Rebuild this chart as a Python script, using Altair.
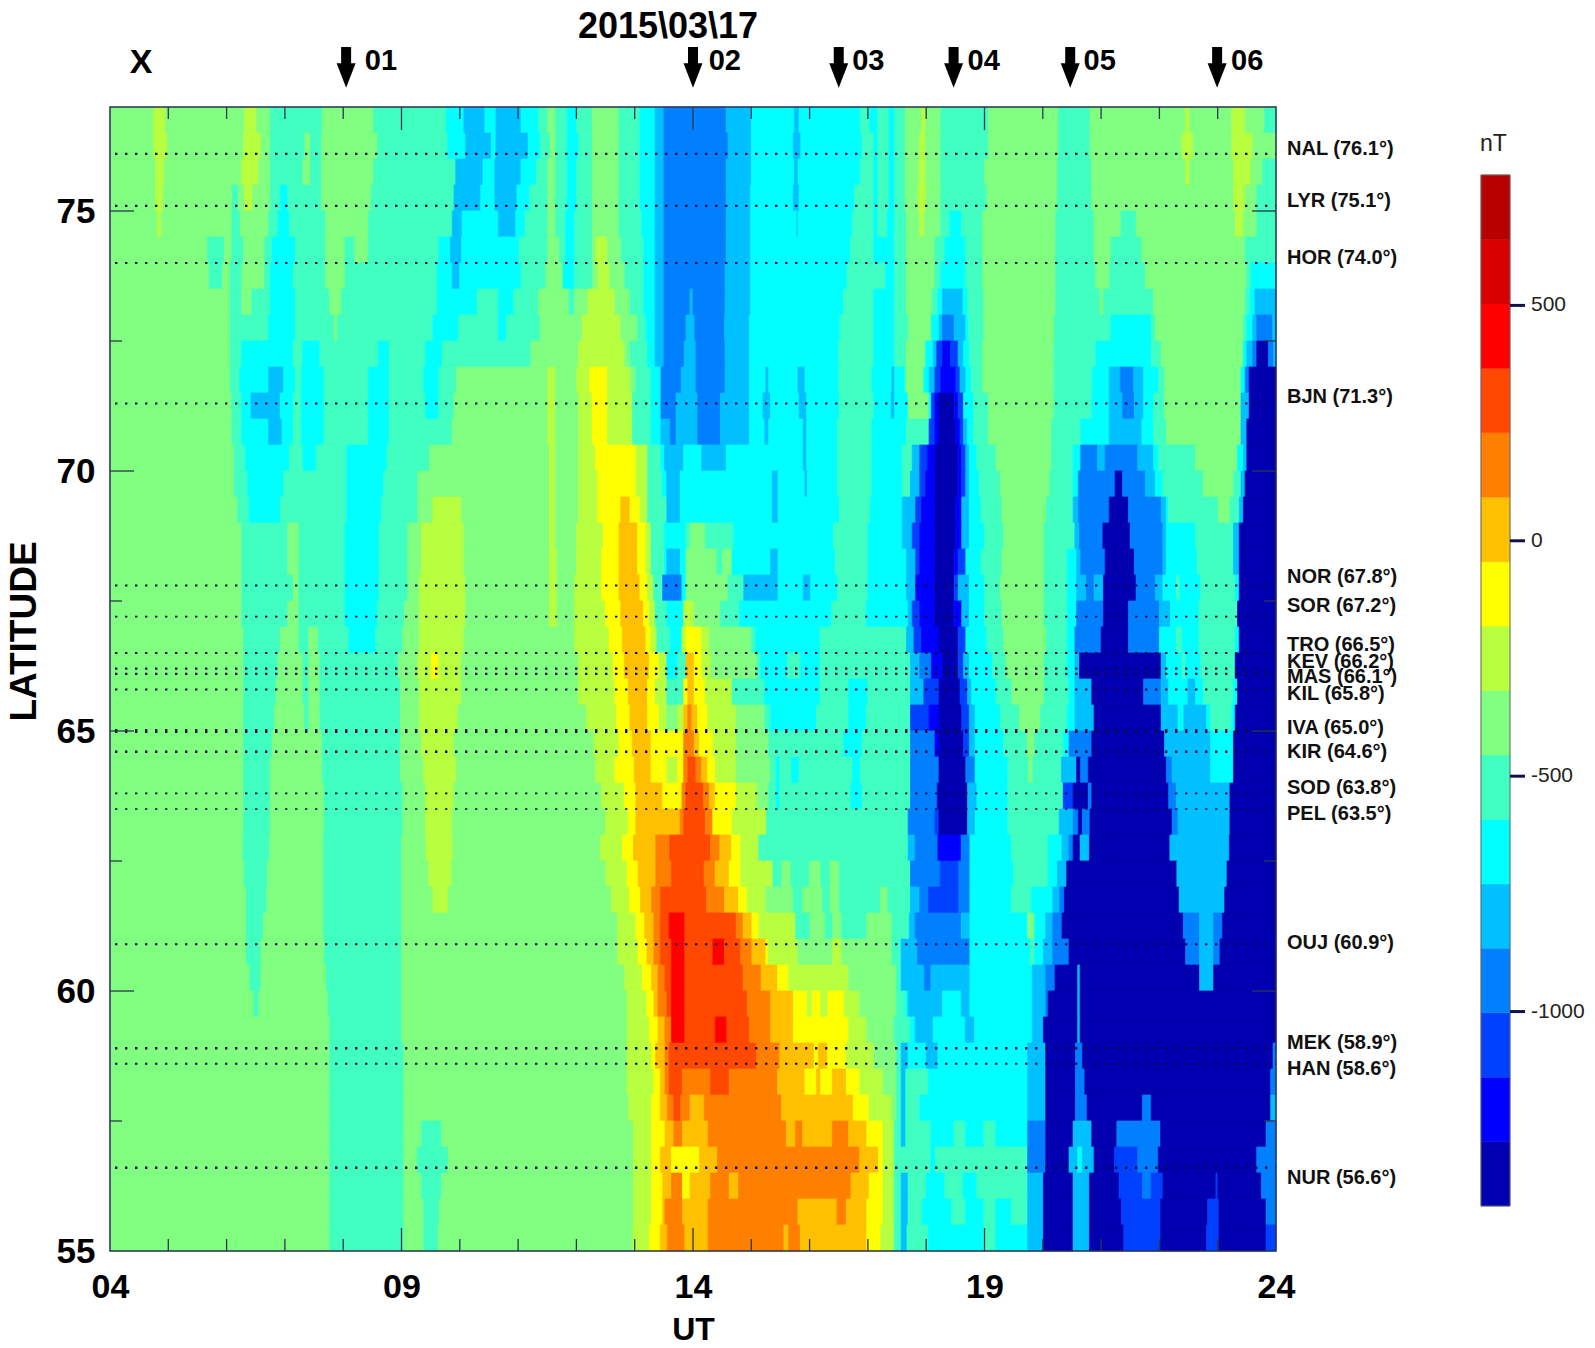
import altair as alt
import pandas as pd

FONT = "Liberation Sans"
COLORS = ["#0000b0", "#0000ff", "#0040ff", "#0080ff", "#00c0ff", "#00ffff", "#40ffc0", "#80ff80",
          "#b8ff40", "#ffff00", "#ffc000", "#ff8000", "#ff4800", "#ff0000", "#d80000", "#b80000"]
NT_MIN, NT_MAX = -1413, 777
BAND_NT = (NT_MAX - NT_MIN) / 16

# Each row: band index, UT where that band ends, next band, ... last band runs to 24 UT.
r_7675 = [7,4.75,8,4.95,7,6.31,8,6.51,7,6.75,6,7.64,7,8.52,6,9.77,5,10.07,4,10.43,5,10.62,4,11.05,5,11.35,6,11.51,7,11.64,6,11.84,5,12.0,6,12.27,7,12.73,6,13.09,5,13.35,4,13.5,3,14.57,4,15.0,5,15.74,4,15.82,5,16.87,6,17.03,5,17.17,6,17.36,5,17.46,6,17.64,7,17.92,8,17.99,7,18.25,6,19.07,7,20.27,6,20.81,7,22.45,8,22.52,7,23.24,8,23.47,7,23.8,6]
r_7625 = [7,4.75,8,4.98,7,6.29,8,6.59,7,6.75,6,7.34,7,7.44,6,7.63,7,8.59,6,9.79,5,10.1,4,10.54,5,10.62,4,11.17,5,11.38,6,11.55,7,11.65,6,11.84,5,12.04,6,12.27,7,12.73,6,13.09,5,13.35,4,13.5,3,14.6,4,15.0,5,15.72,4,15.85,5,16.9,6,17.1,5,17.17,6,17.36,5,17.46,6,17.64,7,17.89,8,17.99,7,18.25,6,19.07,7,20.27,6,20.81,7,22.39,8,22.58,7,23.24,8,23.6,7]
r_7575 = [7,4.78,8,4.93,7,6.26,8,6.55,7,6.75,6,7.31,7,7.44,6,7.63,7,8.52,6,9.93,4,10.4,5,10.6,4,11.05,5,11.31,6,11.51,7,11.64,6,11.84,5,12.0,6,12.27,7,12.73,6,13.09,5,13.35,4,13.5,3,14.57,4,15.0,5,15.74,4,15.8,5,16.87,6,17.1,5,17.17,6,17.36,5,17.46,6,17.64,7,17.88,8,17.99,7,18.25,6,19.0,7,20.25,6,20.84,7,22.45,8,22.52,7,23.27,8,23.57,7,23.77,6]
r_7525 = [7,4.78,8,4.91,7,6.1,6,6.2,7,6.31,8,6.45,7,6.75,6,6.92,5,7.05,6,7.63,7,8.48,6,9.9,4,10.36,5,10.6,4,10.98,5,11.2,6,11.51,7,11.64,6,11.84,5,12.0,6,12.27,7,12.73,6,13.09,5,13.35,4,13.5,3,14.57,4,14.99,5,15.72,4,15.82,5,16.77,6,17.1,5,17.17,6,17.36,5,17.46,6,17.64,7,17.86,8,18.0,7,18.25,6,19.04,7,20.25,6,20.84,7,23.27,8,23.47,7,23.67,6]
r_7475 = [7,4.82,8,4.88,7,6.09,6,6.23,7,6.72,6,6.88,5,7.08,6,7.7,7,8.43,6,9.87,4,10.04,5,10.66,4,10.96,5,11.12,6,11.51,7,11.64,6,11.81,5,11.97,6,12.27,7,12.73,6,13.12,5,13.35,4,13.5,3,14.57,4,14.99,5,15.78,4,15.8,5,16.74,6,17.1,5,17.17,6,17.33,5,17.46,6,17.66,7,17.89,8,17.97,7,18.25,6,18.41,5,18.61,6,18.97,7,20.22,6,20.88,7,21.34,6,21.6,7,23.3,8,23.44,7,23.67,6]
r_7425 = [7,5.67,6,5.96,7,6.09,6,6.29,7,6.65,6,6.78,5,7.18,6,7.7,7,8.03,6,8.2,7,8.43,6,9.64,5,9.84,4,10.03,5,11.02,6,11.51,7,11.71,6,11.81,5,11.97,6,12.27,7,12.33,8,12.53,7,12.77,6,13.15,5,13.35,4,13.5,3,14.57,4,14.99,5,16.7,6,17.1,5,17.46,6,17.66,7,18.15,6,18.32,5,18.68,6,18.97,7,20.22,6,20.88,7,21.17,6,21.7,7,23.47,6]
r_7375 = [7,5.7,6,5.93,7,6.06,6,6.26,7,6.65,6,6.75,5,7.14,6,7.7,7,8.03,6,9.61,5,9.87,4,10.0,5,11.05,6,11.48,7,11.77,5,11.97,6,12.27,7,12.37,8,12.57,7,12.83,6,13.15,5,13.35,4,13.5,3,14.55,4,14.99,5,16.64,6,17.3,5,17.46,6,17.66,7,18.15,6,18.25,5,18.68,6,18.97,7,20.22,6,20.91,7,21.14,6,21.76,7,23.5,6,23.57,5]
r_7325 = [7,6.06,6,6.26,7,6.43,6,6.75,5,7.18,6,7.77,7,7.97,6,9.61,5,10.3,6,10.66,5,10.92,6,11.35,7,11.87,6,11.97,7,12.2,8,12.66,7,12.92,6,13.15,5,13.35,4,13.5,3,13.95,4,14.0,3,14.55,4,14.99,5,16.58,6,17.1,5,17.46,6,17.66,7,18.1,6,18.2,5,18.28,4,18.63,5,18.71,6,18.99,7,20.22,6,20.98,7,21.04,6,21.9,7,23.47,6,23.55,5,23.64,4]
r_7275 = [7,6.06,6,6.72,5,7.18,6,7.85,7,7.9,6,9.54,5,9.98,6,10.66,5,10.8,6,11.38,7,12.1,8,12.76,7,13.05,6,13.19,5,13.35,4,13.5,3,13.88,4,14.03,3,14.54,4,14.97,5,16.52,6,17.1,5,17.46,6,17.7,7,18.09,5,18.22,4,18.28,3,18.48,4,18.68,5,18.73,6,18.99,7,20.2,6,21.17,5,21.86,6,21.93,7,23.44,6,23.5,5,23.6,4,23.67,3,23.94,4]
r_7225 = [7,6.06,6,6.26,5,7.14,6,7.3,5,7.6,6,8.6,5,8.79,6,9.41,5,9.7,6,11.22,7,12.04,8,12.82,7,12.92,6,13.22,5,13.35,4,13.5,3,13.85,4,14.05,3,14.55,4,14.97,5,16.5,6,17.1,5,17.46,6,17.66,7,17.99,5,18.12,4,18.18,2,18.28,1,18.42,2,18.55,4,18.64,5,18.74,6,18.97,7,20.19,6,20.91,5,21.86,6,22.03,7,23.44,5,23.5,4,23.6,3,23.67,0,23.87,3,23.96,4]
r_7175 = [7,6.06,6,6.23,5,6.72,4,6.98,5,7.18,6,7.28,5,7.67,6,8.43,5,8.79,6,9.38,5,9.64,6,9.94,7,11.51,8,11.64,7,12.0,8,12.23,9,12.53,8,12.92,7,13.02,6,13.28,5,13.45,3,13.8,4,14.05,3,14.55,4,14.97,5,15.25,4,15.3,5,15.8,4,15.92,5,16.5,6,17.07,5,17.41,4,17.46,5,17.63,6,17.66,7,17.96,5,18.05,4,18.15,2,18.25,1,18.51,2,18.58,4,18.68,5,18.78,6,18.97,7,20.19,6,20.85,5,21.14,4,21.33,3,21.56,4,21.73,5,21.99,6,22.09,7,23.4,5,23.47,3,23.54,0]
r_7125 = [7,6.09,6,6.26,5,6.42,4,6.92,5,7.14,6,7.28,5,7.67,6,8.43,5,8.79,6,9.41,5,9.64,6,9.9,7,11.51,8,11.64,7,12.04,8,12.27,9,12.53,8,12.96,6,13.28,5,13.45,3,13.71,4,14.08,3,14.47,4,14.97,5,15.2,4,15.33,5,15.82,4,15.95,5,16.51,6,17.1,5,17.4,4,17.46,5,17.69,7,18.05,5,18.09,2,18.15,1,18.22,0,18.48,1,18.55,2,18.64,5,18.81,6,19.07,7,20.19,6,20.84,5,21.14,4,21.37,3,21.57,4,21.73,5,21.9,6,22.09,7,23.4,4,23.54,0]
r_7075 = [7,6.09,6,6.26,5,6.72,4,6.95,5,7.14,6,7.28,5,7.67,6,8.43,5,8.79,6,9.87,7,11.51,8,11.64,7,12.04,8,12.27,9,12.53,8,12.96,6,13.28,5,13.45,4,13.61,3,13.71,4,14.08,3,14.47,4,14.97,5,15.23,4,15.3,5,15.89,4,15.95,5,16.48,6,17.07,5,17.66,6,18.05,2,18.15,1,18.22,0,18.51,1,18.58,2,18.64,4,18.71,5,18.81,6,19.07,7,20.15,6,20.65,5,21.14,4,21.7,5,21.9,6,22.12,7,23.4,4,23.5,0]
r_7025 = [7,6.13,6,6.32,5,7.08,6,7.31,5,7.54,6,8.06,5,8.75,6,9.48,7,11.54,8,11.64,7,12.04,8,12.33,9,13.02,8,13.22,6,13.45,5,13.51,4,13.84,5,14.15,4,14.57,5,15.89,4,15.95,5,16.48,6,17.07,5,17.59,6,17.76,4,17.89,2,18.02,1,18.15,0,18.55,1,18.61,2,18.68,4,18.74,5,18.87,6,19.2,7,20.15,6,20.52,5,20.65,3,20.94,4,21.07,3,21.63,4,21.9,5,21.99,6,22.62,7,23.34,5,23.44,4,23.5,0]
r_6975 = [7,6.13,6,6.36,5,6.98,6,8.06,5,8.69,6,9.28,7,11.54,8,11.64,7,12.04,8,12.37,9,13.02,8,13.22,6,13.48,5,13.55,4,13.78,5,15.36,4,15.46,5,15.92,4,15.96,5,16.48,6,17.07,5,17.59,6,17.73,4,17.89,2,17.99,1,18.15,0,18.55,1,18.61,2,18.68,4,18.74,5,18.91,6,19.27,7,20.12,6,20.52,5,20.61,3,21.24,0,21.37,3,21.76,4,21.93,5,22.06,6,22.75,7,23.27,6,23.4,4,23.47,0]
r_6925 = [7,6.19,6,6.39,5,6.92,6,8.06,5,8.66,6,9.28,7,9.54,8,10.03,7,11.54,8,11.64,7,12.04,8,12.37,9,12.76,10,12.92,9,13.09,8,13.22,6,13.55,4,13.78,5,15.36,4,15.46,5,16.51,6,17.04,5,17.59,4,17.82,2,17.92,1,18.15,0,18.51,1,18.61,4,18.74,5,18.94,6,19.3,7,20.06,6,20.52,4,20.61,3,21.14,0,21.47,3,22.03,4,22.12,5,22.16,6,23.01,7,23.21,6,23.37,4,23.44,0]
r_6875 = [7,6.26,6,7.05,7,7.24,6,8.03,5,8.62,6,9.11,7,9.34,8,10.07,7,11.54,8,11.64,7,12.0,8,12.46,9,12.73,10,13.05,9,13.19,8,13.28,6,13.51,5,13.88,6,13.95,7,14.21,6,14.7,5,16.41,6,17.0,5,17.59,4,17.76,2,17.89,1,18.15,0,18.51,1,18.61,4,18.74,5,19.0,6,19.33,7,20.02,6,20.55,4,20.63,3,21.03,0,21.5,3,22.06,4,22.12,5,22.62,6,23.27,4,23.37,0]
r_6825 = [7,6.26,6,7.05,7,7.24,6,8.03,5,8.62,6,9.11,7,9.34,8,10.07,7,11.54,8,11.67,7,12.0,8,12.43,9,12.73,10,13.05,9,13.19,8,13.28,6,13.51,5,13.55,4,13.78,5,13.88,7,14.41,6,14.51,7,14.67,5,15.33,4,15.46,5,16.44,6,17.0,5,17.66,4,17.82,2,17.89,1,18.15,0,18.48,1,18.55,2,18.68,5,18.94,6,19.3,7,20.02,6,20.42,5,20.58,4,20.65,3,21.07,0,21.57,3,22.06,4,22.12,5,22.65,6,23.27,4,23.37,0]
r_6775 = [7,6.26,6,7.14,7,7.24,6,8.03,5,8.62,6,9.11,7,9.31,8,10.1,7,11.54,8,11.67,7,11.97,8,12.43,9,12.73,10,13.09,9,13.22,8,13.32,6,13.48,3,13.81,5,13.88,7,14.6,6,14.87,4,15.46,5,15.89,4,16.02,5,16.48,6,17.0,5,17.66,4,17.82,1,18.15,0,18.48,2,18.55,4,18.74,5,19.0,6,19.27,7,20.02,6,20.42,5,20.58,4,20.75,3,20.88,4,21.04,0,21.6,3,21.93,4,22.06,5,22.29,6,22.35,5,22.71,6,23.3,5,23.37,0]
r_6725 = [7,6.26,6,7.05,7,7.24,6,8.03,5,8.59,6,9.05,7,9.31,8,10.1,7,11.54,8,11.67,7,11.97,8,12.5,9,12.76,10,13.15,9,13.25,8,13.35,6,13.55,5,13.84,8,14.02,7,14.47,6,14.8,5,16.38,6,16.97,5,17.69,4,17.76,2,17.89,1,18.15,0,18.48,1,18.61,4,18.74,5,19.0,6,19.3,7,20.02,6,20.42,5,20.58,3,21.04,0,21.47,3,22.0,4,22.19,5,22.68,6,23.34,0]
r_6675 = [7,6.29,6,6.92,7,7.24,6,7.41,7,7.57,6,8.1,5,8.56,6,9.02,7,9.31,8,10.07,7,11.97,8,12.56,9,12.79,10,13.19,9,13.28,8,13.38,6,13.61,5,13.81,8,13.88,9,14.15,8,14.28,7,15.0,6,15.07,5,16.18,6,17.66,4,17.79,2,17.92,1,18.22,0,18.55,2,18.68,5,19.04,6,19.33,7,20.06,6,20.42,5,20.55,3,21.0,0,21.47,3,22.0,5,22.29,6,22.39,5,22.68,6,23.3,5,23.37,0]
r_6625 = [7,6.29,6,6.88,7,7.31,6,7.41,7,7.6,6,8.95,7,9.28,8,9.51,9,9.64,8,10.03,7,12.04,8,12.63,9,12.82,10,13.25,9,13.42,8,13.55,5,13.74,6,13.88,10,14.02,9,14.15,8,14.31,7,15.1,6,15.16,5,15.62,6,15.85,5,16.18,6,17.73,4,17.89,3,18.09,1,18.28,0,18.55,2,18.64,4,18.74,5,19.14,6,19.37,7,20.02,6,20.42,5,20.55,4,20.63,0,22.03,4,22.12,5,22.39,6,22.45,5,22.71,6,23.3,0]
r_6575 = [7,6.29,6,6.85,7,7.31,6,7.41,7,7.6,6,8.98,7,9.31,8,10.03,7,12.04,8,12.66,9,12.89,10,13.22,9,13.35,8,13.55,6,13.84,9,13.91,10,14.02,9,14.21,8,14.67,6,15.23,5,16.18,6,16.67,5,17.0,6,17.73,4,17.96,2,18.22,0,18.58,2,18.71,4,18.78,5,19.2,6,19.47,7,20.02,6,20.45,5,20.55,4,20.84,0,21.73,3,22.03,4,22.16,5,22.49,4,22.62,5,22.75,6,23.27,5,23.34,0]
r_6525 = [7,6.29,6,6.82,7,7.34,6,7.41,7,7.6,6,8.98,7,9.31,8,9.97,7,12.17,8,12.69,9,12.92,10,13.22,9,13.42,8,13.55,7,13.74,8,13.84,10,13.91,11,13.98,10,14.08,9,14.25,8,14.74,7,15.23,6,15.33,5,16.12,6,16.67,5,16.97,6,17.73,2,18.05,1,18.22,0,18.61,2,18.74,4,18.84,5,19.27,6,19.6,7,19.96,6,20.42,5,20.55,4,20.88,0,22.03,4,22.32,5,22.42,4,22.81,5,22.88,6,23.24,5,23.3,0]
r_6475 = [7,6.29,6,6.78,7,7.64,6,8.98,7,9.34,8,9.9,7,12.3,8,12.73,9,12.96,10,13.28,9,13.84,11,14.02,10,14.11,9,14.34,8,14.74,7,15.3,6,16.58,5,16.9,6,17.73,3,18.15,1,18.22,0,18.64,2,18.74,4,18.84,5,19.33,6,19.73,7,19.86,6,20.35,5,20.45,3,20.84,0,22.09,4,22.88,5,23.27,0]
r_6425 = [7,6.29,6,6.75,7,7.64,6,8.98,7,9.38,8,9.94,7,12.33,8,12.66,9,12.99,10,13.28,9,13.55,8,13.74,9,13.84,11,13.91,12,14.05,11,14.15,10,14.25,9,14.38,8,14.74,7,15.33,6,15.43,5,15.49,6,15.69,5,15.82,6,16.74,5,16.87,6,17.73,3,18.22,0,18.68,3,18.84,5,19.4,6,19.76,7,19.83,6,20.32,4,20.58,0,20.65,3,20.78,0,22.12,3,22.22,4,22.88,5,23.27,0]
r_6375 = [7,6.29,6,6.75,7,7.67,6,9.02,7,9.41,8,9.9,7,12.43,8,12.82,9,13.02,10,13.48,9,13.81,11,13.88,12,14.18,11,14.28,10,14.38,9,14.74,8,15.1,7,15.3,6,15.43,5,15.49,6,16.71,5,16.9,6,17.73,3,18.19,0,18.71,4,18.87,5,19.4,6,20.35,2,20.52,0,20.78,3,20.84,0,22.16,3,22.29,4,23.21,0]
r_6325 = [7,6.29,6,6.75,7,7.67,6,9.02,7,9.41,8,9.87,7,12.5,8,12.89,9,13.02,10,13.78,11,13.84,12,14.21,11,14.34,9,14.67,8,15.26,6,17.69,3,18.15,2,18.22,0,18.71,4,18.84,5,19.4,6,20.28,4,20.52,3,20.61,0,20.68,3,20.81,0,22.22,3,22.32,4,23.21,0]
r_6275 = [7,6.28,6,6.74,7,7.66,6,9.0,7,9.42,8,9.88,7,12.41,8,12.79,9,12.98,10,13.36,11,13.6,12,14.3,11,14.46,10,14.66,9,14.82,8,15.13,6,17.69,4,17.81,3,18.2,1,18.6,3,18.75,5,19.46,6,20.09,5,20.33,4,20.45,3,20.52,0,20.64,4,20.8,0,22.18,4,23.2,0]
r_6225 = [7,6.3,6,6.7,7,7.66,6,9.0,7,9.47,8,9.86,7,12.51,8,12.87,9,13.06,10,13.36,11,13.63,12,14.19,11,14.38,10,14.62,9,14.82,8,15.37,6,15.52,7,15.68,6,16.0,7,16.19,6,16.35,7,16.51,6,17.73,3,18.24,2,18.56,3,18.75,5,19.5,6,20.09,5,20.25,4,20.41,0,22.3,4,23.16,0]
r_6175 = [7,6.34,6,6.69,7,7.66,6,9.0,7,9.54,8,9.8,7,12.6,8,12.91,9,13.1,10,13.29,11,13.44,12,14.23,11,14.54,10,14.78,9,14.93,8,15.25,7,15.72,6,15.88,7,16.23,6,16.35,7,16.51,6,17.22,7,17.34,6,17.73,4,17.89,3,18.04,2,18.56,3,18.75,5,19.46,6,19.8,5,20.17,4,20.29,3,20.37,0,22.34,4,23.12,0]
r_6125 = [7,6.34,6,6.63,7,7.66,6,9.0,7,12.71,8,13.02,9,13.17,10,13.33,11,13.44,12,13.59,13,13.86,12,14.74,11,14.86,10,15.01,9,15.13,8,15.76,6,16.01,7,16.27,6,16.39,7,16.55,6,16.98,7,17.41,6,17.71,4,17.81,3,18.6,4,18.75,5,19.74,7,19.86,5,20.05,4,20.17,3,20.33,0,22.41,3,22.69,4,22.93,3,23.08,0]
r_6075 = [7,6.34,6,6.59,7,7.68,6,9.0,7,12.71,8,13.06,9,13.21,10,13.33,11,13.44,12,13.63,13,13.86,12,14.34,13,14.54,12,14.82,11,15.01,10,15.25,9,15.29,8,15.8,7,16.39,8,16.55,7,17.41,6,17.57,4,17.85,3,18.75,5,19.78,6,19.86,5,20.01,4,20.17,3,20.45,0,22.45,3,22.69,4,22.93,3,23.04,0]
r_6025 = [7,6.4,6,6.59,7,7.71,6,9.0,7,12.83,8,13.13,9,13.29,10,13.4,11,13.52,12,13.63,13,13.86,12,14.86,11,15.17,10,15.45,9,15.64,8,16.67,7,17.49,6,17.57,4,17.97,3,18.08,4,18.75,5,19.82,4,20.05,3,20.21,0,20.6,4,20.64,0,22.69,4,22.93,0]
r_5975 = [7,6.47,6,6.55,7,7.74,6,9.0,7,12.87,8,13.21,9,13.33,10,13.4,11,13.55,12,13.63,13,13.86,12,14.93,11,15.33,10,15.72,9,15.96,8,16.04,9,16.19,8,16.31,9,16.59,8,16.86,7,17.49,6,17.65,5,17.69,4,18.28,5,18.6,4,18.75,5,19.82,4,20.05,3,20.09,0,20.6,4,20.64,0]
r_5925 = [7,7.77,6,9.0,7,12.87,8,13.25,9,13.4,10,13.52,11,13.63,13,13.86,12,14.38,13,14.58,12,14.97,11,15.33,10,15.72,9,16.67,8,16.98,7,17.45,6,17.73,5,17.81,4,18.12,5,18.67,4,18.83,5,19.82,4,20.01,0,20.6,4,20.64,0]
r_5875 = [7,7.77,6,9.04,7,12.87,8,13.29,9,13.36,10,13.52,11,13.59,12,15.09,11,15.49,10,16.08,9,16.15,10,16.31,9,16.63,8,17.1,7,17.49,6,17.57,4,17.69,5,18.0,4,18.2,5,19.74,4,20.05,0,20.56,3,20.68,0,23.95,3]
r_5825 = [7,7.77,6,9.04,7,12.87,8,13.33,9,13.44,10,13.52,11,13.59,12,13.82,11,14.3,12,14.62,11,15.45,10,15.92,9,16.12,10,16.19,9,16.39,10,16.63,9,16.86,8,17.26,7,17.49,6,17.57,4,17.65,6,18.04,5,19.74,4,20.05,0,20.56,3,20.72,0,23.91,3]
r_5775 = [7,7.77,6,9.04,7,12.9,8,13.29,9,13.44,10,13.56,11,13.67,12,13.79,11,13.95,10,14.19,11,15.52,10,16.75,9,17.02,8,17.41,7,17.49,6,17.57,4,17.65,6,17.89,5,19.74,4,20.05,0,20.56,3,20.76,0,21.71,3,21.86,0,23.91,4]
r_5725 = [7,7.77,6,9.04,7,9.34,6,9.69,7,12.98,8,13.29,9,13.52,10,13.67,11,13.82,10,14.26,11,15.6,10,15.76,11,15.88,10,16.39,11,16.67,10,16.98,9,17.26,8,17.45,6,17.57,4,17.65,6,18.08,5,18.48,6,18.67,5,18.99,6,19.19,5,19.74,3,20.05,0,20.52,4,20.84,0,21.27,3,22.02,0,23.83,3]
r_5675 = [7,7.77,6,9.04,7,9.27,6,9.8,7,12.98,8,13.29,9,13.44,10,13.63,9,14.11,10,14.42,11,16.86,10,17.18,9,17.26,8,17.45,6,18.08,5,18.16,6,19.74,3,20.05,0,20.45,4,20.6,5,20.68,4,20.88,0,21.23,2,21.63,3,21.98,0,23.67,3]
r_5625 = [7,7.77,6,9.04,7,9.34,6,9.69,7,12.98,8,13.29,9,13.48,10,13.63,11,13.82,9,13.95,10,14.3,11,14.62,10,14.78,11,16.71,10,17.02,9,17.26,8,17.45,6,17.57,4,17.69,6,18.0,5,18.32,6,18.63,5,18.87,6,19.74,4,20.01,0,20.52,4,20.8,0,21.31,2,21.71,3,21.86,2,22.06,0,22.97,2,23.0,0,23.75,3]
r_5575 = [7,7.77,6,9.04,7,9.38,6,9.65,7,12.98,8,13.29,9,13.48,10,13.52,11,13.82,10,14.26,11,15.8,10,16.47,11,16.63,10,16.98,9,17.26,8,17.45,6,17.57,4,17.69,6,17.93,5,18.44,6,18.67,5,18.99,6,19.19,5,19.46,6,19.74,4,20.01,0,20.52,4,20.8,0,21.35,2,22.02,0,22.83,2,23.02,0,23.83,3]
r_5525 = [7,7.77,6,9.04,7,9.38,6,9.63,7,12.97,8,13.25,9,13.44,10,13.56,11,13.86,10,14.26,11,15.56,10,15.64,11,15.84,10,16.98,9,17.22,8,17.45,6,17.57,4,17.67,6,18.04,5,18.99,6,19.19,5,19.74,4,20.01,0,20.52,4,20.8,0,21.39,2,22.02,0,22.81,2,23.02,0,23.83,2]

ROW_CENTRES = [76.75, 76.25, 75.75, 75.25, 74.75, 74.25, 73.75, 73.25, 72.75, 72.25, 71.75, 71.25,
               70.75, 70.25, 69.75, 69.25, 68.75, 68.25, 67.75, 67.25, 66.75, 66.25, 65.75, 65.25,
               64.75, 64.25, 63.75, 63.25, 62.75, 62.25, 61.75, 61.25, 60.75, 60.25, 59.75, 59.25,
               58.75, 58.25, 57.75, 57.25, 56.75, 56.25, 55.75, 55.25]
ROW_SEGMENTS = [r_7675, r_7625, r_7575, r_7525, r_7475, r_7425, r_7375, r_7325, r_7275, r_7225, r_7175, r_7125,
                r_7075, r_7025, r_6975, r_6925, r_6875, r_6825, r_6775, r_6725, r_6675, r_6625, r_6575, r_6525,
                r_6475, r_6425, r_6375, r_6325, r_6275, r_6225, r_6175, r_6125, r_6075, r_6025, r_5975, r_5925,
                r_5875, r_5825, r_5775, r_5725, r_5675, r_5625, r_5575, r_5525]

STATIONS = ["NAL", "LYR", "HOR", "BJN", "NOR", "SOR", "TRO", "KEV", "MAS", "KIL", "IVA", "KIR", "SOD", "PEL", "OUJ", "MEK", "HAN", "NUR"]
STATION_LAT = [76.1, 75.1, 74.0, 71.3, 67.8, 67.2, 66.5, 66.2, 66.1, 65.8, 65.0, 64.6, 63.8, 63.5, 60.9, 58.9, 58.6, 56.6]
LABEL_LAT = [76.2, 75.2, 74.1, 71.42, 67.96, 67.4, 66.65, 66.33, 66.03, 65.71, 65.06, 64.6, 63.9, 63.4, 60.92, 59.0, 58.5, 56.4]
DOT_WIDTH = [2.2, 2.2, 2, 2, 2, 1.7, 2, 2.2, 2.2, 2, 4, 2.6, 1.8, 1.5, 2, 2.4, 2, 2.4]
ARROW_UT = [8.05, 14.0, 16.5, 18.47, 20.47, 22.99]
ARROW_LABEL_UT = [8.37, 14.27, 16.73, 18.71, 20.7, 23.23]
ARROW_ID = ["01", "02", "03", "04", "05", "06"]
CB_TICKS = [500, 0, -500, -1000]
CB_LABELS = ["500", "0", "-500", "-1000"]

W, H = 1166, 1144
rows = []
for centre, seg in zip(ROW_CENTRES, ROW_SEGMENTS):
    start = 4.0
    for i in range(0, len(seg), 2):
        end = seg[i + 1] if i + 1 < len(seg) else 24.0
        rows.append({"x": start, "x2": end, "lat_hi": centre + 0.25, "lat_lo": centre - 0.25,
                     "nT": NT_MIN + (seg[i] + 0.5) * BAND_NT})
        start = end
heat_df = pd.DataFrame(rows)
st_df = pd.DataFrame({"name": [f"{s} ({v}\u00b0)" for s, v in zip(STATIONS, STATION_LAT)],
                      "lat": STATION_LAT, "label_lat": LABEL_LAT, "w": DOT_WIDTH})
arrow_df = pd.DataFrame({"ut": ARROW_UT, "lab_ut": ARROW_LABEL_UT, "id": ARROW_ID})
cb_df = pd.DataFrame({"lo": [NT_MIN + i * BAND_NT for i in range(16)], "hi": [NT_MIN + (i + 1) * BAND_NT for i in range(16)],
                      "nT": [NT_MIN + (i + 0.5) * BAND_NT for i in range(16)]})
cbt_df = pd.DataFrame({"v": CB_TICKS, "label": CB_LABELS})

xs = alt.Scale(domain=[4, 24], nice=False, zero=False)
ys = alt.Scale(domain=[55, 77], nice=False, zero=False)
cs = alt.Scale(type="quantize", domain=[NT_MIN, NT_MAX], range=COLORS)
cby = alt.Scale(domain=[NT_MIN, NT_MAX], range=[1099, 68], nice=False, zero=False)

heat = alt.Chart(heat_df).mark_rect(strokeWidth=0.7).encode(
    x=alt.X("x:Q", scale=xs, axis=alt.Axis(values=[4, 9, 14, 19, 24], labelExpr="datum.value<10?'0'+datum.value:''+datum.value",
                                           title="UT", ticks=False, domain=False, grid=False, labelFlush=False, labelFont=FONT, labelFontSize=34,
                                           labelFontWeight="bold", labelColor="black", labelPadding=19, titleFont=FONT,
                                           titleFontSize=32, titleFontWeight="bold", titleColor="black", titlePadding=10)),
    x2="x2:Q",
    y=alt.Y("lat_hi:Q", scale=ys, axis=alt.Axis(values=[55, 60, 65, 70, 75], title="LATITUDE", ticks=False, domain=False, grid=False,
                                                labelFont=FONT, labelFontSize=35, labelFontWeight="bold", labelColor="black",
                                                labelPadding=15, titleFont=FONT, titleFontSize=37, titleFontWeight="bold",
                                                titleColor="black", titlePadding=13, titleY=524)),
    y2="lat_lo:Q",
    color=alt.Color("nT:Q", scale=cs, legend=None),
    stroke=alt.Stroke("nT:Q", scale=cs, legend=None),
)
dots = alt.Chart(st_df).mark_rule(color="#0c0c40", strokeDash=[2.4, 7.6]).encode(
    x=alt.value(5), x2=alt.value(W), y=alt.Y("lat:Q", scale=ys, axis=None),
    size=alt.Size("w:Q", scale=None, legend=None))


def hticks(values, length):
    d = pd.DataFrame({"v": values})
    t = alt.Chart(d).mark_rule(color="#2b3550", strokeWidth=1.3)
    return [t.encode(x=alt.X("v:Q", scale=xs, axis=None), y=alt.value(H), y2=alt.value(H - length)),
            t.encode(x=alt.X("v:Q", scale=xs, axis=None), y=alt.value(0), y2=alt.value(length))]


def vticks(values, length):
    d = pd.DataFrame({"v": values})
    t = alt.Chart(d).mark_rule(color="#2b3550", strokeWidth=1.3)
    return [t.encode(y=alt.Y("v:Q", scale=ys, axis=None), x=alt.value(0), x2=alt.value(length)),
            t.encode(y=alt.Y("v:Q", scale=ys, axis=None), x=alt.value(W), x2=alt.value(W - length))]


ticks = (hticks([9, 14, 19], 23) + hticks([5, 6, 7, 8, 10, 11, 12, 13, 15, 16, 17, 18, 20, 21, 22, 23], 12)
         + vticks([60, 65, 70, 75], 24) + vticks([57.5, 62.5, 67.5, 72.5], 12))
frame = alt.Chart(st_df.head(1)).mark_rect(fillOpacity=0, stroke="#2b3550", strokeWidth=1.5).encode(
    x=alt.value(0), x2=alt.value(W), y=alt.value(0), y2=alt.value(H))
st_text = alt.Chart(st_df).mark_text(align="left", baseline="middle", font=FONT, fontSize=20, fontWeight="bold", color="#111").encode(
    x=alt.value(1177), y=alt.Y("label_lat:Q", scale=ys, axis=None), text="name:N")
shaft = alt.Chart(arrow_df).mark_rule(color="black", strokeWidth=10).encode(
    x=alt.X("ut:Q", scale=xs, axis=None), y=alt.value(-60), y2=alt.value(-40))
head = alt.Chart(arrow_df).mark_point(shape="M-1,-1.3L1,-1.3L0,1.3Z", filled=True, size=361, color="black", opacity=1).encode(
    x=alt.X("ut:Q", scale=xs, axis=None), y=alt.value(-31.5))
arrow_lab = alt.Chart(arrow_df).mark_text(align="left", baseline="middle", font=FONT, fontSize=29, fontWeight="bold", color="black").encode(
    x=alt.X("lab_ut:Q", scale=xs, axis=None), y=alt.value(-46), text="id:N")
title = alt.Chart(st_df.head(1)).mark_text(font=FONT, fontSize=36, fontWeight="bold", color="black", baseline="middle").encode(
    x=alt.value(558), y=alt.value(-80.5), text=alt.value("2015\\03\\17"))
x_mark = alt.Chart(st_df.head(1)).mark_text(font=FONT, fontSize=34, fontWeight="bold", color="black", baseline="middle").encode(
    x=alt.value(31), y=alt.value(-44), text=alt.value("X"))
cbar = alt.Chart(cb_df).mark_rect(strokeWidth=0.5).encode(
    x=alt.value(1371), x2=alt.value(1400), y=alt.Y("hi:Q", scale=cby, axis=None), y2="lo:Q",
    color=alt.Color("nT:Q", scale=cs, legend=None), stroke=alt.Stroke("nT:Q", scale=cs, legend=None))
cbar_frame = alt.Chart(st_df.head(1)).mark_rect(fillOpacity=0, stroke="#666", strokeWidth=1).encode(
    x=alt.value(1371), x2=alt.value(1400), y=alt.value(68), y2=alt.value(1099))
cb_tick = alt.Chart(cbt_df).mark_rule(color="#10104a", strokeWidth=3).encode(
    x=alt.value(1400), x2=alt.value(1415), y=alt.Y("v:Q", scale=cby, axis=None))
cb_text = alt.Chart(cbt_df).mark_text(align="left", baseline="middle", font=FONT, fontSize=21, color="#222").encode(
    x=alt.value(1421), y=alt.Y("v:Q", scale=cby, axis=None), text="label:N")
nt_text = alt.Chart(st_df.head(1)).mark_text(align="left", baseline="middle", font=FONT, fontSize=23, color="#222").encode(
    x=alt.value(1370), y=alt.value(37), text=alt.value("nT"))

chart = alt.layer(heat, dots, *ticks, frame, st_text, shaft, head, arrow_lab, title, x_mark,
                  cbar, cbar_frame, cb_tick, cb_text, nt_text).resolve_scale(x="independent", y="independent").properties(
    width=W, height=H,
    padding={"left": 102, "top": 99, "right": 311, "bottom": 92},
    autosize=alt.AutoSizeParams(type="none", contains="content"),
).configure_view(stroke=None)
chart.save("out.html", embed_options={"renderer": "svg", "actions": False})
